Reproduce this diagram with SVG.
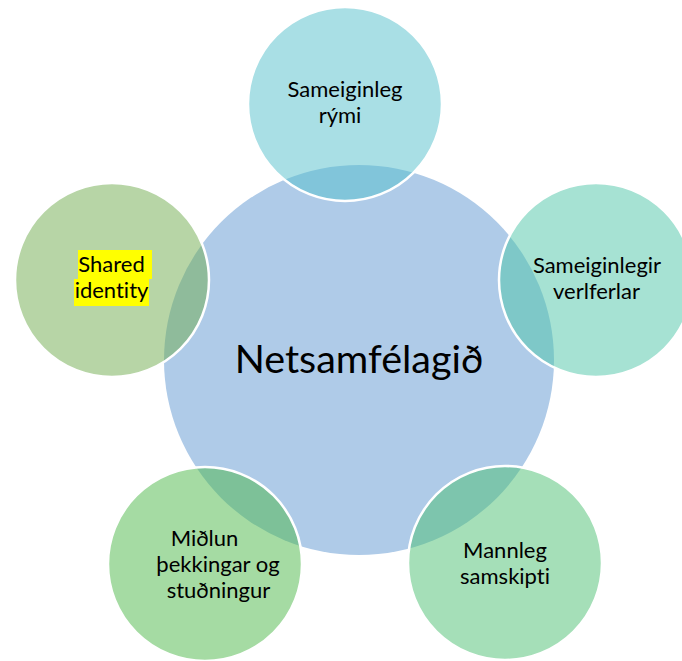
<svg xmlns="http://www.w3.org/2000/svg" width="682" height="661" viewBox="0 0 682 661">
<style>
.lbl{font-family:Lato,"Liberation Sans",sans-serif;font-size:22px;fill:#000;text-anchor:middle;font-variant-ligatures:none}
.big{font-family:Lato,"Liberation Sans",sans-serif;font-size:39.5px;fill:#000;text-anchor:middle;font-variant-ligatures:none}
.sat{fill-opacity:0.5;stroke:#fff;stroke-width:2.5}
.hl{fill:#ffff00}
</style>
<rect width="682" height="661" fill="#fff"/>
<g id="center">
<circle cx="359" cy="360" r="195" fill="#AFCBE8"/>
<text class="big" x="359" y="373">Netsamfélagið</text>
</g>
<g id="top">
<circle class="sat" cx="345" cy="104" r="97" fill="#53BFCB"/>
<text class="lbl" x="345" y="97">Sameiginleg</text>
<text class="lbl" x="340" y="123">rými</text>
</g>
<g id="right">
<circle class="sat" cx="596" cy="280" r="97" fill="#4DC5A7"/>
<text class="lbl" x="597" y="273">Sameiginlegir</text>
<text class="lbl" x="596.5" y="299">verlferlar</text>
</g>
<g id="left">
<circle class="sat" cx="112" cy="280" r="97" fill="#6FAB4D"/>
<rect class="hl" x="78" y="250" width="74" height="29"/>
<rect class="hl" x="74" y="279" width="75" height="27"/>
<text class="lbl" x="111.5" y="272">Shared</text>
<text class="lbl" x="111.5" y="298">identity</text>
</g>
<g id="bottom-left">
<circle class="sat" cx="205" cy="564" r="97" fill="#4BB747"/>
<text class="lbl" x="204.5" y="546">Miðlun</text>
<text class="lbl" x="218" y="572">þekkingar og</text>
<text class="lbl" x="218.5" y="598">stuðningur</text>
</g>
<g id="bottom-right">
<circle class="sat" cx="505" cy="563" r="97" fill="#4BBF71"/>
<text class="lbl" x="505" y="558">Mannleg</text>
<text class="lbl" x="505" y="584">samskipti</text>
</g>
<g id="connectors"></g>
</svg>
